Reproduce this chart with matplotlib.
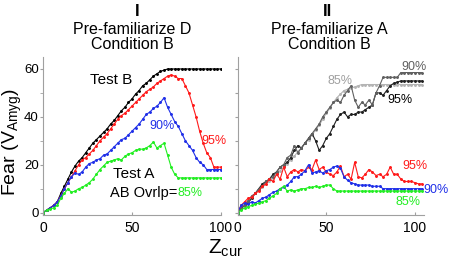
import matplotlib
matplotlib.use('Agg')
import matplotlib.pyplot as plt

plt.rcParams['font.family'] = ['Liberation Sans', 'DejaVu Sans']
plt.rcParams['mathtext.fontset'] = 'custom'
plt.rcParams['mathtext.rm'] = 'Liberation Sans'

# panel I: Pre-familiarize D, x = Z_cur (every 2 steps)
z_left = list(range(0, 101, 2))
test_b = [0, 1, 2, 3, 4.5, 8, 11, 14, 17, 19.5, 21.5, 23, 25, 27, 29, 30.5, 32, 33.5, 35, 37,
          38.5, 40.5, 42.5, 44, 46, 47.5, 49.5, 51, 53, 54, 55.5, 57, 58, 59, 59.5, 60,
          60, 60, 60, 60, 60, 60, 60, 60, 60, 60, 60, 60, 60, 60, 60]
left_95 = [0, 1, 2, 3, 4.5, 7, 10, 12.5, 15, 17.5, 20, 22, 23, 24.5, 26, 28, 30, 31.5, 33, 35,
           37, 39, 40.5, 41.5, 43, 44.5, 46, 47.5, 49, 50.5, 51.5, 52.5, 54, 55, 56, 57,
           57.5, 57, 56, 56, 53, 50, 45, 40, 34, 29, 25, 23, 19, 19, 19]
left_90 = [0, 1, 2, 3, 4.5, 7, 10, 12.5, 15, 16.5, 16, 17, 19, 20.5, 21, 22, 22.5, 24, 24.5, 26,
           27.5, 29, 30.5, 31, 32.5, 34, 35.5, 37, 39, 41, 42, 43.5, 44.5, 46, 48, 44,
           41, 38, 36, 33, 30, 28, 26, 23, 21, 20, 18, 18, 18, 18, 18]
left_85 = [0, 1, 1.5, 2, 3, 6, 8, 10, 8.5, 9, 10, 10.5, 11.5, 12.5, 14, 16, 18, 19.5, 21, 21.5,
           22, 22.5, 22, 23.5, 24.5, 25, 26, 26.5, 26.5, 27, 28, 29.5, 27, 28, 29, 24,
           19, 16, 14.5, 14.5, 14.5, 14.5, 14.5, 14.5, 14.5, 14.5, 14.5, 14.5, 14.5, 14.5, 14.5]

# panel II: Pre-familiarize A
z_right = list(range(0, 105, 2))
right_85_top = [0, 2, 3.5, 5, 6.5, 8, 9.5, 10.5, 12, 13, 14.5, 16, 17.5, 19, 20.5, 22, 23.5,
                25.5, 27, 29, 30.5, 32.5, 34.5, 36.5, 39, 41.5, 43.5, 46, 48, 49.5, 51, 51.5,
                52, 52.5, 53, 53.5, 53.5, 53.5, 53.5, 53.5, 53.5, 53.5, 53.5, 53.5, 53.5, 53.5,
                53.5, 53.5, 53.5, 53.5, 53.5, 53.5, 53.5]
right_90_top = [0, 2, 3, 5, 7, 8, 10, 11, 13, 14, 15, 17, 19, 20, 23, 24, 28, 25, 27, 29, 31,
                33, 35, 37, 40, 42, 44, 46, 47, 46, 49, 51, 53, 47, 44, 46, 45, 47, 45, 50, 53,
                56.5, 56.5, 56.5, 56.5, 56.5, 58.5, 58.5, 58.5, 58.5, 58.5, 58.5, 58.5]
right_95_top = [0, 1.5, 3, 4, 6, 8, 10, 12, 13, 14, 16, 17, 19, 20, 21, 23, 26, 28, 27, 29, 31,
                33, 30, 26, 28, 31, 33, 36, 39, 41, 42, 40, 41, 41, 42, 42, 43, 44, 45, 50, 50,
                49, 51, 53, 54, 54.5, 55, 55, 55, 55, 55, 55, 55]
right_95 = [0, 3, 4.5, 6, 6.5, 8, 9, 11, 12, 14, 13, 16, 14, 19, 15, 17, 18, 17, 18, 17.5, 19,
            18, 22, 18, 19, 17, 16, 15.5, 17, 19.5, 15, 16, 14, 21, 15, 14.5, 16, 18, 17, 15.5,
            16, 15, 16, 19, 16, 16, 14, 13, 13, 13, 12.5, 12, 12]
right_90 = [0, 3, 4, 3.5, 4.5, 4, 5, 6, 6.5, 7.5, 8.5, 9, 10, 10.5, 11.5, 13, 15, 15, 16, 17.5,
            20, 16.5, 17, 17.5, 16.5, 17.5, 18, 19, 19.5, 18.5, 15, 13.5, 12.5, 12, 11.5, 11.5,
            11.5, 11.5, 11, 11, 11, 10, 10, 10, 10, 10, 10, 10, 10, 10, 10, 10, 10]
right_85 = [0, 1, 2, 2.5, 3, 3.5, 4, 4.5, 5, 6, 7, 8, 10, 11, 9, 9.5, 9, 9.5, 10, 10, 10.5,
            10.5, 11, 10.5, 11, 11.5, 11.5, 10, 9, 9, 9, 9, 9, 9, 9, 9, 9, 9, 9, 9, 9, 9, 9, 9,
            9, 9, 9, 9, 9, 9, 9, 9, 9]

RED = '#ff1a1a'
BLUE = '#1f2fe8'
GREEN = '#22ee22'

fig = plt.figure(figsize=(4.54, 2.63), dpi=100)
ax1 = fig.add_axes([43 / 454, 48 / 263, 178 / 454, 158 / 263])
ax2 = fig.add_axes([237.5 / 454, 48 / 263, 186.4 / 454, 158 / 263])

line_kw = dict(lw=0.8, marker='.', ms=2.2)
ax1.plot(z_left, test_b, color='black', **line_kw)
ax1.plot(z_left, left_95, color=RED, **line_kw)
ax1.plot(z_left, left_90, color=BLUE, **line_kw)
ax1.plot(z_left, left_85, color=GREEN, **line_kw)

ax2.plot(z_right, right_85_top, color='#b4b4b4', **line_kw)
ax2.plot(z_right, right_95_top, color='#202020', **line_kw)
ax2.plot(z_right, right_90_top, color='#606060', **line_kw)
ax2.plot(z_right, right_95, color=RED, **line_kw)
ax2.plot(z_right, right_90, color=BLUE, **line_kw)
ax2.plot(z_right, right_85, color=GREEN, **line_kw)

for ax, xmax in ((ax1, 100), (ax2, 105)):
    ax.set_xlim(0, xmax)
    ax.set_ylim(-1, 65)
    ax.spines['top'].set_visible(False)
    ax.spines['right'].set_visible(False)
    ax.spines['left'].set_color('#a0a0a0')
    ax.spines['bottom'].set_color('#a0a0a0')
    ax.set_xticks([0, 50, 100])
    ax.tick_params(axis='x', direction='in', length=2, color='#a0a0a0', labelsize=10, pad=4)
    ax.tick_params(axis='y', direction='out', length=2, color='#a0a0a0', labelsize=9.5, pad=1)
    ax.tick_params(axis='y', which='minor', direction='out', length=2, color='#a0a0a0')

ax1.set_yticks([0, 20, 40, 60])
ax1.set_yticks([10, 30, 50], minor=True)
ax2.set_yticks([0, 10, 20, 30, 40, 50, 60])
ax2.set_yticklabels([])

# panel I labels
ax1.text(38, 55.4, 'Test B', color='black', fontsize=11, ha='center', va='center')
ax1.text(67, 36.3, '90%', color=BLUE, fontsize=9, ha='center', va='center')
ax1.text(96, 30, '95%', color=RED, fontsize=9, ha='center', va='center', clip_on=False)
ax1.text(51, 16.3, 'Test A', color='black', fontsize=11, ha='center', va='center')
ax1.text(75.5, 8.2, 'AB Ovrlp=', color='black', fontsize=10.5, ha='right', va='center')
ax1.text(75.5, 8.2, '85%', color=GREEN, fontsize=9, ha='left', va='center')

# panel II labels
ax2.text(99.7, 61, '90%', color='#606060', fontsize=9, ha='center', va='center', clip_on=False)
ax2.text(57.7, 55.1, '85%', color='#a0a0a0', fontsize=9, ha='center', va='center')
ax2.text(91.5, 47, '95%', color='black', fontsize=9, ha='center', va='center')
ax2.text(100, 19.6, '95%', color=RED, fontsize=9, ha='center', va='center')
ax2.text(111.8, 9.3, '90%', color=BLUE, fontsize=9, ha='center', va='center', clip_on=False)
ax2.text(95.8, 4.5, '85%', color=GREEN, fontsize=9, ha='center', va='center')

# titles
fig.text(137 / 454, 1 - 12 / 263, 'I', fontsize=12, fontweight='bold', ha='center', va='center')
fig.text(132 / 454, 1 - 37 / 263, 'Pre-familiarize D\nCondition B', fontsize=11.5,
         ha='center', va='center', linespacing=0.95)
fig.text(327 / 454, 1 - 12 / 263, 'II', fontsize=12, fontweight='bold', ha='center', va='center')
fig.text(329 / 454, 1 - 37 / 263, 'Pre-familiarize A\nCondition B', fontsize=11.5,
         ha='center', va='center', linespacing=0.95)

# axis labels
fig.text(12.5 / 454, 1 - 142 / 263, r'Fear (V$_{\mathrm{Amyg}}$)', fontsize=14, rotation=90,
         ha='center', va='center')
fig.text(226 / 454, 1 - 248 / 263, r'$\mathrm{Z}_{\mathrm{cur}}$', fontsize=15,
         ha='center', va='center')

fig.savefig('out.png', dpi=100)
